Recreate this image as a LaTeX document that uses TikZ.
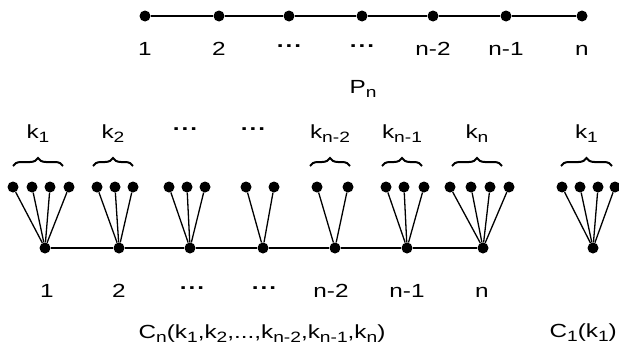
\documentclass[tikz,border=0pt]{standalone}
\usepackage{fontspec}
\setmainfont{Liberation Sans}[FakeStretch=1.28]
\usetikzlibrary{decorations.pathreplacing}
\newcommand\subsc[1]{\raisebox{-4pt}{\fontsize{15}{15}\selectfont #1}}
\newcommand\updots{\raisebox{0.42em}{\textbf{.\kern2pt.\kern2pt.}}}

\begin{document}
\begin{tikzpicture}[
    x=1pt, y=-1pt,
    every node/.style={font=\fontsize{19}{21}\selectfont},
    vertex/.style={circle, fill, inner sep=0pt, minimum size=11pt},
    edge/.style={line width=1.3pt},
    lbl/.style={anchor=base, inner sep=0pt},
    kbrace/.style={decorate, decoration={brace, amplitude=8pt}, line width=2pt}
]
\useasboundingbox (0,0) rectangle (619,348);

% path P_n
\foreach \i/\x/\t in {1/145/1, 2/219/2, 3/289/\updots, 4/362/\updots, 5/433/n-2, 6/506/n-1, 7/582/n} {
    \node[vertex] (p\i) at (\x,16) {};
    \node[lbl] (pl\i) at (\x,55) {\t};
}
\foreach \i in {2,...,7} {
    \pgfmathtruncatemacro\j{\i-1}
    \draw[edge] (p\j) -- (p\i);
}
\node[lbl] (pcap) at (363,93) {P\subsc{n}};

% caterpillar C_n and C_1
\foreach \g/\hx/\leaves in {1/45/{13,32,50,69}, 2/119/{97,115,133}, 3/190/{169,187,205},
        4/263/{246,274}, 5/335/{317,348}, 6/407/{386,404,424}, 7/483/{450,471,490,509},
        c/593/{562,580,598,615}} {
    \node[vertex] (h\g) at (\hx,248) {};
    \foreach \lx [count=\k] in \leaves {
        \node[vertex] (l\g-\k) at (\lx,187) {};
        \draw[edge] (h\g) -- (l\g-\k);
    }
}
\foreach \i in {2,...,7} {
    \pgfmathtruncatemacro\j{\i-1}
    \draw[edge] (h\j) -- (h\i);
}

% braces over the leaves
\foreach \a/\b/\t in {13/63/k\subsc{1}, 93/133/k\subsc{2}, 310/350/k\subsc{n-2},
        382/422/k\subsc{n-1}, 452/502/k\subsc{n}, 561/612/k\subsc{1}} {
    \draw[kbrace] (\a,166) -- (\b,166);
    \node[lbl] at ({(\a+\b)/2},138) {\t};
}
\node[lbl] (kd3) at (185,138) {\updots};
\node[lbl] (kd4) at (253,138) {\updots};

% hub labels
\foreach \i/\x/\t in {1/47/1, 2/119/2, 3/192/\updots, 4/264/\updots, 5/331/n-2, 6/407/n-1, 7/482/n} {
    \node[lbl] (hl\i) at (\x,297) {\t};
}
\node[lbl] (ccap) at (262,338) {C\subsc{n}(k\subsc{1},k\subsc{2},...,k\subsc{n-2},k\subsc{n-1},k\subsc{n})};
\node[lbl, anchor=base east] (c1cap) at (617,337) {C\subsc{1}(k\subsc{1})};
\end{tikzpicture}
\end{document}
